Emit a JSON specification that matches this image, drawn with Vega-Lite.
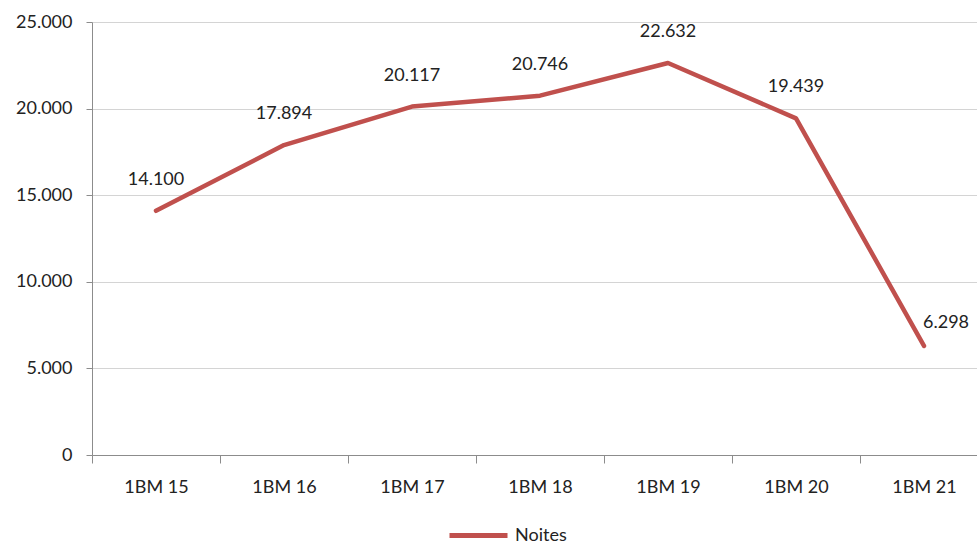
{
  "$schema": "https://vega.github.io/schema/vega-lite/v6.json",
  "autosize": {"type": "none"},
  "width": 885,
  "height": 433,
  "padding": {"left": 92, "top": 22, "right": 0, "bottom": 90},
  "background": "white",
  "config": {
    "locale": {"number": {"decimal": ",", "thousands": ".", "grouping": [3], "currency": ["", " €"]}},
    "view": {"stroke": null},
    "font": "Lato"
  },
  "data": {"values": [
    {"period": "1BM 15", "value": 14100, "series": "Noites"},
    {"period": "1BM 16", "value": 17894, "series": "Noites"},
    {"period": "1BM 17", "value": 20117, "series": "Noites"},
    {"period": "1BM 18", "value": 20746, "series": "Noites"},
    {"period": "1BM 19", "value": 22632, "series": "Noites"},
    {"period": "1BM 20", "value": 19439, "series": "Noites"},
    {"period": "1BM 21", "value": 6298, "series": "Noites"}
  ]},
  "encoding": {
    "x": {
      "field": "period", "type": "ordinal", "bandPosition": 0.5,
      "scale": {"type": "band", "range": [0, 896], "paddingInner": 0, "paddingOuter": 0},
      "axis": {
        "title": null, "labelAngle": 0, "tickBand": "extent",
        "domainColor": "#8c8c8c", "tickColor": "#8c8c8c", "tickSize": 8,
        "labelFont": "Lato", "labelFontSize": 18, "labelColor": "#222222", "labelPadding": 15,
        "grid": false
      }
    },
    "y": {
      "field": "value", "type": "quantitative",
      "scale": {"domain": [0, 25000], "nice": false},
      "axis": {
        "title": null, "values": [0, 5000, 10000, 15000, 20000, 25000], "format": ",d",
        "domainColor": "#8c8c8c", "tickColor": "#8c8c8c", "tickSize": 6,
        "gridColor": "#d4d4d4", "labelFont": "Lato", "labelFontSize": 18,
        "labelColor": "#222222", "labelPadding": 14
      }
    }
  },
  "layer": [
    {
      "mark": {"type": "line", "strokeWidth": 4.5, "strokeCap": "round", "strokeJoin": "round"},
      "encoding": {
        "color": {
          "field": "series", "type": "nominal",
          "scale": {"range": ["#C0504D"]},
          "legend": {
            "title": null, "orient": "none", "legendX": 355, "legendY": 482,
            "symbolType": "stroke", "symbolSize": 3364, "symbolStrokeWidth": 5,
            "labelFont": "Lato", "labelFontSize": 18, "labelColor": "#222222", "labelOffset": 5
          }
        }
      }
    },
    {
      "transform": [{"filter": "datum.period !== '1BM 21'"}],
      "mark": {"type": "text", "dy": -31, "fontSize": 18, "font": "Lato", "color": "#222222"},
      "encoding": {"text": {"field": "value", "type": "quantitative", "format": ",d"}}
    },
    {
      "transform": [{"filter": "datum.period === '1BM 21'"}],
      "mark": {"type": "text", "dx": 22, "dy": -23, "fontSize": 18, "font": "Lato", "color": "#222222"},
      "encoding": {"text": {"field": "value", "type": "quantitative", "format": ",d"}}
    }
  ]
}
